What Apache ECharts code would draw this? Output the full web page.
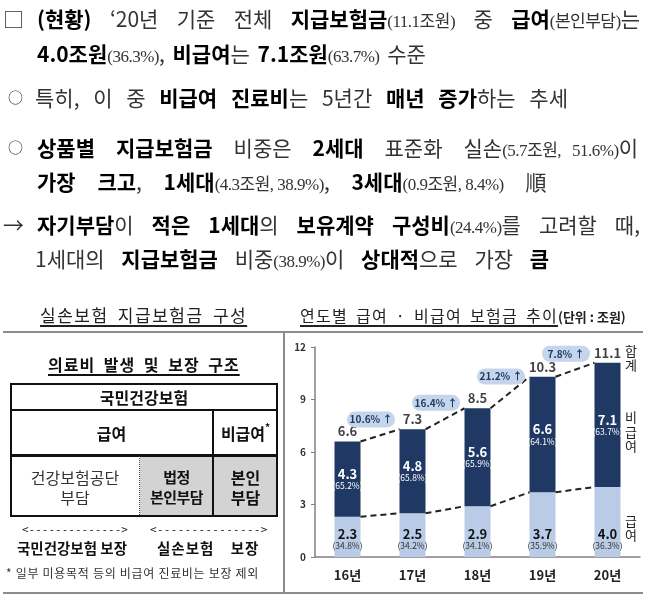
<!DOCTYPE html>
<html>
<head>
<meta charset="utf-8">
<script src="https://cdn.jsdelivr.net/npm/echarts@6.0.0/dist/echarts.min.js"></script>
<style>
body{margin:0;background:#fff;font-family:"Noto Sans CJK KR",sans-serif;color:#222}
#page{position:relative;width:646px;height:599px;overflow:hidden}
#main{position:absolute;left:0;top:0;width:646px;height:599px}
.ab{position:absolute;white-space:nowrap}
.ln{font-size:21px;line-height:26px;word-spacing:9px;color:#333}
.ln b{color:#000;font-weight:700}
.sm{font-family:"Liberation Serif","Noto Sans CJK KR",serif;font-size:17px;letter-spacing:-0.5px;word-spacing:0}
.jl{text-align:justify;text-align-last:justify}
.cell{position:absolute;display:flex;align-items:center;justify-content:center;text-align:center;font-size:16px;line-height:20px;color:#111}
.hl{position:absolute;background:#111}
.rule{position:absolute;background:#8c8c8c}
.ul{text-decoration:underline;text-decoration-thickness:1.5px;text-underline-offset:3px}
</style>
</head>
<body>
<div id="page">
<div id="main"></div>

<!-- 본문 -->
<div class="ab ln" style="left:3px;top:5px;font-size:21px">□</div>
<div class="ab ln jl" style="left:37px;top:5px;width:603px"><b>(현황)</b> ‘20년 기준 전체 <b>지급보험금</b><span class="sm">(11.1조원)</span> 중 <b>급여</b><span class="sm">(본인부담)</span>는</div>
<div class="ab ln" style="left:37px;top:40px;word-spacing:3px"><b>4.0조원</b><span class="sm">(36.3%)</span>, <b>비급여</b>는 <b>7.1조원</b><span class="sm">(63.7%)</span> 수준</div>

<div class="ab ln" style="left:8px;top:84px;font-size:15px">○</div>
<div class="ab ln" style="left:35px;top:84px">특히, 이 중 <b>비급여 진료비</b>는 5년간 <b>매년 증가</b>하는 추세</div>

<div class="ab ln" style="left:8px;top:134px;font-size:15px">○</div>
<div class="ab ln jl" style="left:37px;top:134px;width:601px"><b>상품별 지급보험금</b> 비중은 <b>2세대</b> 표준화 실손<span class="sm">(5.7조원, 51.6%)</span>이</div>
<div class="ab ln" style="left:37px;top:168px;word-spacing:17px"><b>가장 크고</b>, <b>1세대</b><span class="sm">(4.3조원, 38.9%)</span>, <b>3세대</b><span class="sm">(0.9조원, 8.4%)</span> 順</div>

<div class="ab ln" style="left:3px;top:211px">→</div>
<div class="ab ln jl" style="left:37px;top:211px;width:603px"><b>자기부담</b>이 <b>적은 1세대</b>의 <b>보유계약 구성비</b><span class="sm">(24.4%)</span>를 고려할 때,</div>
<div class="ab ln" style="left:35px;top:245px;word-spacing:12px">1세대의 <b>지급보험금</b> 비중<span class="sm">(38.9%)</span>이 <b>상대적</b>으로 가장 <b>큼</b></div>

<!-- 제목 -->
<div class="ab ul" style="left:40px;top:304px;font-size:17px;line-height:22px;letter-spacing:1.5px;word-spacing:4px;color:#222">실손보험 지급보험금 구성</div>
<div class="ab" style="left:300px;top:304px;font-size:16px;line-height:22px;color:#222"><span class="ul" style="letter-spacing:1.3px;word-spacing:3px">연도별 급여 · 비급여 보험금 추이</span><span style="font-size:13px;font-weight:700">(단위 : 조원)</span></div>

<div class="rule" style="left:3px;top:331px;width:640px;height:2px"></div>
<div class="rule" style="left:283px;top:333px;width:1.5px;height:260px"></div>
<div class="rule" style="left:3px;top:592px;width:640px;height:2px"></div>

<!-- 의료비 구조 -->
<div class="ab ul" style="left:48px;top:354px;font-size:16px;line-height:20px;font-weight:700;letter-spacing:1px;word-spacing:4px;color:#111">의료비 발생 및 보장 구조</div>

<div class="ab" style="left:140px;top:456px;width:138px;height:61px;background:#d3d3d3"></div>
<div class="cell" style="left:10px;top:383px;width:268px;height:27px;font-weight:700">국민건강보험</div>
<div class="cell" style="left:10px;top:410px;width:203px;height:45px;font-weight:700">급여</div>
<div class="cell" style="left:213px;top:410px;width:65px;height:45px;font-weight:700">비급여<span style="font-size:10px;position:relative;top:-6px">*</span></div>
<div class="cell" style="left:10px;top:456px;width:130px;height:61px;color:#333">건강보험공단<br>부담</div>
<div class="cell" style="left:140px;top:456px;width:73px;height:61px;font-weight:700;font-size:15px;letter-spacing:-0.5px">법정<br>본인부담</div>
<div class="cell" style="left:213px;top:456px;width:65px;height:61px;font-weight:700">본인<br>부담</div>
<div class="hl" style="left:10px;top:409px;width:268px;height:1.5px"></div>
<div class="hl" style="left:212px;top:410px;width:1.5px;height:107px"></div>
<div class="hl" style="left:10px;top:454px;width:268px;height:2.5px"></div>
<div class="ab" style="left:139px;top:456px;height:61px;border-left:1px dotted #444"></div>
<div class="ab" style="left:10px;top:383px;width:268px;height:134px;border:2px solid #111;box-sizing:border-box"></div>

<div class="ab" style="left:22px;top:523px;font-family:'DejaVu Sans Mono',monospace;font-size:11px;line-height:14px;color:#222">&lt;--------------&gt;</div>
<div class="ab" style="left:150px;top:523px;font-family:'DejaVu Sans Mono',monospace;font-size:11px;line-height:14px;color:#222;letter-spacing:0.3px">&lt;---------------&gt;</div>
<div class="ab" style="left:17px;top:538px;font-size:14.5px;line-height:20px;font-weight:700;color:#111">국민건강보험 보장</div>
<div class="ab" style="left:157px;top:538px;font-size:14.5px;line-height:20px;font-weight:700;letter-spacing:1px;word-spacing:12px;color:#111">실손보험 보장</div>
<div class="ab" style="left:6px;top:565px;font-size:12px;line-height:16px;color:#333;letter-spacing:0.7px">* 일부 미용목적 등의 비급여 진료비는 보장 제외</div>
</div>

<script>
// 연도별 급여 / 비급여 보험금 (단위: 조원)
var years = ['16년', '17년', '18년', '19년', '20년'];
var gupyeo = [2.3, 2.5, 2.9, 3.7, 4.0];
var gupyeoPct = ['34.8%', '34.2%', '34.1%', '35.9%', '36.3%'];
var bigupyeo = [4.3, 4.8, 5.6, 6.6, 7.1];
var bigupyeoPct = ['65.2%', '65.8%', '65.9%', '64.1%', '63.7%'];
var totals = [6.6, 7.3, 8.5, 10.3, 11.1];
var growth = ['10.6%', '16.4%', '21.2%', '7.8%'];
var yTicks = [0, 3, 6, 9, 12];

var BAR_W = 26;
var FONT = '"Noto Sans CJK KR", "Noto Sans", sans-serif';
var NAVY = '#1f3864';

var myChart = echarts.init(document.getElementById('main'));

// 막대 사이 점선 (합계 / 급여)
function renderDash(params, api) {
    var i = params.dataIndex;
    function seg(arr) {
        var a = api.coord([i, arr[i]]);
        var b = api.coord([i + 1, arr[i + 1]]);
        return {
            type: 'line',
            shape: { x1: a[0] + BAR_W / 2, y1: a[1], x2: b[0] - BAR_W / 2, y2: b[1] },
            style: { stroke: '#222', lineWidth: 2, lineDash: [6, 4] }
        };
    }
    return { type: 'group', children: [seg(totals), seg(gupyeo)] };
}

// 증가율 말풍선
function renderBubble(params, api) {
    var i = params.dataIndex;
    var a = api.coord([i, totals[i]]);
    var b = api.coord([i + 1, totals[i + 1]]);
    var cx = (a[0] + b[0]) / 2 - 9;
    var cy = (a[1] + b[1]) / 2 - 16;
    return {
        type: 'group',
        children: [{
            type: 'rect',
            shape: { x: cx - 24, y: cy - 8, width: 48, height: 16, r: 8 },
            style: { fill: '#c5d5ec' }
        }, {
            type: 'text',
            style: {
                text: growth[i] + ' ↑', x: cx, y: cy, align: 'center', verticalAlign: 'middle',
                fill: NAVY, font: 'bold 10px ' + FONT
            }
        }]
    };
}

var option = {
    animation: false,
    textStyle: { fontFamily: FONT },
    grid: { left: 315, right: 6, top: 347, bottom: 42 },
    xAxis: {
        type: 'category',
        data: years,
        axisLine: { lineStyle: { color: '#808080', width: 1.5 } },
        axisTick: { length: 4, lineStyle: { color: '#808080' } },
        axisLabel: { margin: 12, fontSize: 13, fontWeight: 'bold', color: '#222' }
    },
    yAxis: {
        type: 'value',
        min: yTicks[0],
        max: yTicks[yTicks.length - 1],
        interval: yTicks[1] - yTicks[0],
        splitLine: { show: false },
        axisLine: { show: true, lineStyle: { color: '#808080', width: 1.5 } },
        axisTick: { show: true, length: 4, lineStyle: { color: '#808080' } },
        axisLabel: { margin: 9, fontSize: 10, fontWeight: 'bold', color: '#333' }
    },
    graphic: [
        { type: 'text', left: 625, top: 344, style: { text: '합\n계', font: '13px ' + FONT, fill: '#222', lineHeight: 14 } },
        { type: 'text', left: 625, top: 410, style: { text: '비\n급\n여', font: '13px ' + FONT, fill: '#222', lineHeight: 14.5 } },
        { type: 'text', left: 625, top: 514, style: { text: '급\n여', font: '13px ' + FONT, fill: '#222', lineHeight: 14 } }
    ],
    series: [{
        name: '급여',
        type: 'bar',
        stack: 'total',
        barWidth: BAR_W,
        data: gupyeo,
        itemStyle: { color: '#b9cbe6' },
        label: {
            show: true,
            position: 'insideBottom',
            distance: 6,
            formatter: function(p) {
                return '{v|' + p.value.toFixed(1) + '}\n{p|(' + gupyeoPct[p.dataIndex] + ')}';
            },
            rich: {
                v: { fontSize: 13, fontWeight: 'bold', color: '#111', lineHeight: 14 },
                p: { fontSize: 8.5, color: '#333', lineHeight: 10 }
            }
        }
    }, {
        name: '비급여',
        type: 'bar',
        stack: 'total',
        barWidth: BAR_W,
        data: bigupyeo,
        itemStyle: { color: NAVY },
        label: {
            show: true,
            position: 'inside',
            formatter: function(p) {
                return '{v|' + p.value.toFixed(1) + '}\n{p|(' + bigupyeoPct[p.dataIndex] + ')}';
            },
            rich: {
                v: { fontSize: 13, fontWeight: 'bold', color: '#fff', lineHeight: 14 },
                p: { fontSize: 8.5, color: '#fff', lineHeight: 10 }
            }
        }
    }, {
        name: '합계',
        type: 'scatter',
        data: totals,
        symbolSize: 1,
        itemStyle: { color: 'rgba(0,0,0,0)' },
        label: {
            show: true,
            position: 'top',
            distance: 3,
            formatter: function(p) { return p.value.toFixed(1); },
            fontSize: 13,
            fontWeight: 'bold',
            color: '#111'
        }
    }, {
        type: 'custom',
        renderItem: renderDash,
        data: growth.map(function(g, i) { return [i, totals[i]]; }),
        z: 3
    }, {
        type: 'custom',
        renderItem: renderBubble,
        data: growth.map(function(g, i) { return [i, totals[i]]; }),
        z: 4
    }]
};

myChart.setOption(option);
</script>
</body>
</html>
